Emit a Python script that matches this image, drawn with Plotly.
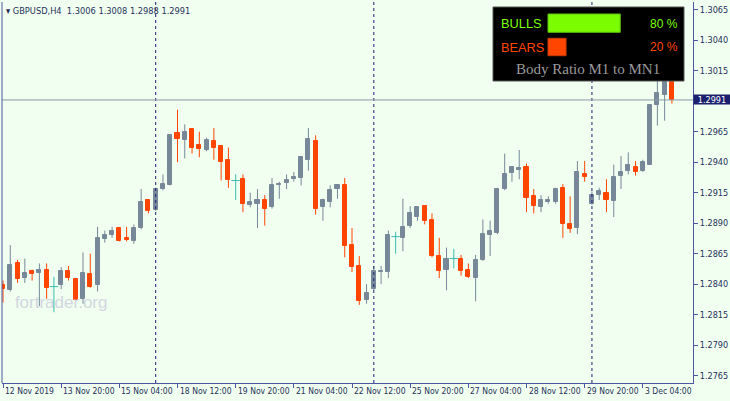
import plotly.graph_objects as go

symbol = "GBPUSD"
timeframe = "H4"

opens = [
    1.2839, 1.2835, 1.2857, 1.2845, 1.2851, 1.2849, 1.2852, 1.2838, 1.2839, 1.2851,
    1.2844, 1.2828, 1.2848, 1.2839, 1.2877, 1.2880, 1.2886, 1.2878, 1.2875, 1.2886,
    1.2909, 1.2901, 1.2918, 1.2921, 1.2964, 1.2958, 1.2967, 1.2954, 1.2950, 1.2957,
    1.2953, 1.2942, 1.2925, 1.2926, 1.2905, 1.2906, 1.2909, 1.2903, 1.2921, 1.2923,
    1.2926, 1.2927, 1.2942, 1.2957, 1.2903, 1.2907, 1.2918, 1.2921, 1.2872, 1.2855,
    1.2827, 1.2836, 1.2850, 1.2850, 1.2879, 1.2878, 1.2888, 1.2895, 1.2904, 1.2893,
    1.2863, 1.2852, 1.2861, 1.2861, 1.2852, 1.2845, 1.2860, 1.2880, 1.2882, 1.2918,
    1.2931, 1.2934, 1.2936, 1.2912, 1.2903, 1.2907, 1.2907, 1.2919, 1.2889, 1.2886,
    1.2930, 1.2906, 1.2913, 1.2915, 1.2908, 1.2929, 1.2933, 1.2936, 1.2933, 1.2938,
    1.2987, 1.2995, 1.3006,
]
highs = [
    1.2843, 1.2872, 1.2860, 1.2861, 1.2852, 1.2857, 1.2857, 1.2846, 1.2854, 1.2855,
    1.2845, 1.2866, 1.2865, 1.2887, 1.2884, 1.2887, 1.2886, 1.2887, 1.2889, 1.2918,
    1.2909, 1.2919, 1.2930, 1.2962, 1.2983, 1.2971, 1.2967, 1.2965, 1.2960, 1.2968,
    1.2954, 1.2952, 1.2930, 1.2930, 1.2915, 1.2918, 1.2913, 1.2927, 1.2924, 1.2930,
    1.2932, 1.2945, 1.2968, 1.2962, 1.2910, 1.2921, 1.2921, 1.2927, 1.2886, 1.2863,
    1.2840, 1.2855, 1.2855, 1.2884, 1.2883, 1.2910, 1.2904, 1.2904, 1.2904, 1.2898,
    1.2878, 1.2870, 1.2869, 1.2864, 1.2857, 1.2864, 1.2893, 1.2892, 1.2919, 1.2947,
    1.2936, 1.2950, 1.2939, 1.2918, 1.2913, 1.2912, 1.2919, 1.2922, 1.2912, 1.2941,
    1.2941, 1.2916, 1.2919, 1.2926, 1.2938, 1.2945, 1.2948, 1.2941, 1.2942, 1.2987,
    1.3007, 1.3010, 1.3008,
]
lows = [
    1.2825, 1.2834, 1.2841, 1.2841, 1.2843, 1.2822, 1.2828, 1.2817, 1.2836, 1.2843,
    1.2827, 1.2824, 1.2837, 1.2834, 1.2874, 1.2878, 1.2875, 1.2875, 1.2873, 1.2885,
    1.2898, 1.2900, 1.2917, 1.2921, 1.2940, 1.2943, 1.2947, 1.2944, 1.2949, 1.2942,
    1.2925, 1.2919, 1.2909, 1.2899, 1.2903, 1.2886, 1.2888, 1.2902, 1.2910, 1.2918,
    1.2924, 1.2921, 1.2933, 1.2897, 1.2892, 1.2903, 1.2910, 1.2862, 1.2850, 1.2823,
    1.2824, 1.2835, 1.2840, 1.2845, 1.2865, 1.2867, 1.2886, 1.2892, 1.2889, 1.2862,
    1.2845, 1.2835, 1.2853, 1.2847, 1.2845, 1.2826, 1.2859, 1.2863, 1.2881, 1.2917,
    1.2924, 1.2926, 1.2899, 1.2898, 1.2899, 1.2906, 1.2906, 1.2878, 1.2882, 1.2881,
    1.2924, 1.2905, 1.2909, 1.2899, 1.2895, 1.2918, 1.2930, 1.2929, 1.2932, 1.2938,
    1.2970, 1.2974, 1.2988,
]
closes = [
    1.2836, 1.2856, 1.2844, 1.2849, 1.2848, 1.2852, 1.2837, 1.2838, 1.2851, 1.2845,
    1.2827, 1.2849, 1.2838, 1.2878, 1.2880, 1.2884, 1.2875, 1.2876, 1.2886, 1.2907,
    1.2900, 1.2918, 1.2922, 1.2962, 1.2959, 1.2965, 1.2952, 1.2951, 1.2958, 1.2952,
    1.2940, 1.2925, 1.2925, 1.2906, 1.2907, 1.2909, 1.2902, 1.2921, 1.2922, 1.2925,
    1.2928, 1.2944, 1.2959, 1.2902, 1.2909, 1.2917, 1.2921, 1.2871, 1.2854, 1.2826,
    1.2833, 1.2851, 1.2851, 1.2880, 1.2879, 1.2887, 1.2898, 1.2903, 1.2892, 1.2863,
    1.2851, 1.2861, 1.2861, 1.2851, 1.2846, 1.2860, 1.2881, 1.2884, 1.2918, 1.2930,
    1.2936, 1.2935, 1.2911, 1.2904, 1.2909, 1.2909, 1.2918, 1.2889, 1.2885, 1.2932,
    1.2928, 1.2913, 1.2916, 1.2909, 1.2928, 1.2932, 1.2938, 1.2932, 1.2940, 1.2987,
    1.2997, 1.3006, 1.2991,
]

x_tick_bars = [0, 8, 16, 24, 32, 40, 48, 56, 64, 72, 80, 88]
x_tick_labels = ["12 Nov 2019", "13 Nov 20:00", "15 Nov 04:00", "18 Nov 12:00",
                 "19 Nov 20:00", "21 Nov 04:00", "22 Nov 12:00", "25 Nov 20:00",
                 "27 Nov 04:00", "28 Nov 12:00", "29 Nov 20:00", "3 Dec 04:00"]
week_start_bars = [21, 51, 81]
y_tick_values = [1.3065, 1.3040, 1.3015, 1.2965, 1.2940, 1.2915, 1.2890,
                 1.2865, 1.2840, 1.2815, 1.2790, 1.2765]
bulls_pct = 80
bears_pct = 20

BG = "#F0FFF0"
FRAME = "#4b5aa0"
TXT = "#26305a"
BULL = "#778899"
BEAR = "#FF4500"
DOJI = "#3cbcb0"
FONT = "Tahoma, 'DejaVu Sans Condensed', 'Liberation Sans', sans-serif"

W, H = 730, 401
L, R, T, B = 2, 693, 2, 383


def px(x):
    return (x - L) / (R - L)


def py(y):
    return 1 - (y - T) / (B - T)


groups = {"bull": [], "bear": [], "doji": []}
for i, (o, c) in enumerate(zip(opens, closes)):
    if c > o:
        groups["bull"].append(i)
    elif c < o:
        groups["bear"].append(i)
    else:
        groups["doji"].append(i)

colors = {"bull": BULL, "bear": BEAR, "doji": DOJI}

fig = go.Figure()

# watermark (beneath the candles)
fig.add_trace(go.Scatter(x=[8.0], y=[1.2824], mode="text", text=["fortrader.org"],
                         textfont=dict(family="'Liberation Sans', Arial", size=17, color="#d3d6e2"),
                         hoverinfo="skip", showlegend=False, cliponaxis=False))

# wicks
for k, idx in groups.items():
    wx, wy = [], []
    for i in idx:
        wx += [i, i, None]
        wy += [lows[i], highs[i], None]
    fig.add_trace(go.Scatter(x=wx, y=wy, mode="lines",
                             line=dict(color=colors[k], width=1),
                             hoverinfo="skip", showlegend=False))

# bodies
for k in ("bull", "bear"):
    idx = groups[k]
    fig.add_trace(go.Bar(x=idx,
                         y=[abs(closes[i] - opens[i]) for i in idx],
                         base=[min(opens[i], closes[i]) for i in idx],
                         width=0.56,
                         marker=dict(color=colors[k], line=dict(color=colors[k], width=1)),
                         showlegend=False))

# doji bodies
d_idx = groups["doji"]
fig.add_trace(go.Scatter(x=d_idx, y=[opens[i] for i in d_idx], mode="markers",
                         marker=dict(symbol="line-ew", size=6,
                                     line=dict(color=DOJI, width=1)),
                         showlegend=False))

shapes = []
for b in week_start_bars:
    shapes.append(dict(type="line", xref="x", yref="paper", x0=b, x1=b, y0=0, y1=1,
                       line=dict(color="#1c2270", width=1, dash="dot")))
# bid line
shapes.append(dict(type="line", xref="paper", yref="y", x0=0, x1=1,
                   y0=closes[-1], y1=closes[-1], line=dict(color="#8a98a8", width=1)))
# left frame
shapes.append(dict(type="line", xref="paper", yref="paper", x0=0, x1=0, y0=0, y1=1,
                   line=dict(color=FRAME, width=1)))

# info panel
bx0, bx1, by0, by1 = 493, 684, 7, 81
shapes.append(dict(type="rect", xref="paper", yref="paper", layer="above",
                   x0=px(bx0), x1=px(bx1), y0=py(by1), y1=py(by0),
                   fillcolor="#000000", line=dict(color="#555555", width=1)))
bar_left, bar_full = 548, 90.3
shapes.append(dict(type="rect", xref="paper", yref="paper", layer="above",
                   x0=px(bar_left), x1=px(bar_left + bar_full * bulls_pct / 100),
                   y0=py(32.3), y1=py(14),
                   fillcolor="#7CFC00", line=dict(color="#5fbf10", width=1)))
shapes.append(dict(type="rect", xref="paper", yref="paper", layer="above",
                   x0=px(bar_left), x1=px(bar_left + bar_full * bears_pct / 100),
                   y0=py(55.7), y1=py(38.3),
                   fillcolor="#FF4500", line=dict(color="#c93a08", width=1)))

ann = []
for b, t in zip(x_tick_bars, x_tick_labels):
    ann.append(dict(x=b, xref="x", y=0, yref="paper", text=t, showarrow=False,
                    xanchor="left", yanchor="top", xshift=0, yshift=-1,
                    font=dict(family=FONT, size=8.5, color=TXT)))

ann.append(dict(x=0, xref="paper", y=1, yref="paper", showarrow=False,
                xanchor="left", yanchor="top", xshift=2, yshift=-1,
                text=f"▾ {symbol},{timeframe}  {opens[-1]:.4f} {highs[-1]:.4f} "
                     f"{lows[-1]:.4f} {closes[-1]:.4f}",
                font=dict(family=FONT, size=9.2, color=TXT)))

ann.append(dict(x=1, xref="paper", y=closes[-1], yref="y", showarrow=False,
                xanchor="left", yanchor="middle", xshift=0, text=f"{closes[-1]:.4f}",
                bgcolor="#1a1f6e", borderpad=0, width=36, height=9,
                font=dict(family=FONT, size=9, color="#ffffff")))

ann.append(dict(x=px(499), xref="paper", y=py(23.5), yref="paper", showarrow=False,
                xanchor="left", yanchor="middle", text="BULLS",
                font=dict(family="'Liberation Sans', Arial", size=12.8, color="#7CFC00")))
ann.append(dict(x=px(499), xref="paper", y=py(47), yref="paper", showarrow=False,
                xanchor="left", yanchor="middle", text="BEARS",
                font=dict(family="'Liberation Sans', Arial", size=12.8, color="#FF4500")))
ann.append(dict(x=px(680), xref="paper", y=py(24), yref="paper", showarrow=False,
                xanchor="right", yanchor="middle", text=f"{bulls_pct} %",
                font=dict(family="'Liberation Sans', Arial", size=12, color="#7CFC00")))
ann.append(dict(x=px(680), xref="paper", y=py(47), yref="paper", showarrow=False,
                xanchor="right", yanchor="middle", text=f"{bears_pct} %",
                font=dict(family="'Liberation Sans', Arial", size=12, color="#FF4500")))
ann.append(dict(x=px(588), xref="paper", y=py(68.5), yref="paper", showarrow=False,
                xanchor="center", yanchor="middle", text="Body Ratio M1 to MN1",
                font=dict(family="'Liberation Serif', serif", size=15, color="#9a9a9a")))

fig.update_layout(
    width=W, height=H, autosize=False,
    margin=dict(l=L, r=W - R, t=T, b=H - B, pad=0),
    paper_bgcolor=BG, plot_bgcolor=BG,
    barmode="overlay", bargap=0,
    showlegend=False,
    shapes=shapes, annotations=ann,
    xaxis=dict(range=[-0.14, 94.9], showgrid=False, zeroline=False,
               tickvals=x_tick_bars, showticklabels=False,
               ticks="outside", ticklen=4, tickcolor=FRAME, tickwidth=1,
               showline=True, linecolor=FRAME, linewidth=1, fixedrange=True),
    yaxis=dict(range=[1.27590, 1.30713], side="right", showgrid=False, zeroline=False,
               tickvals=y_tick_values, ticktext=[f"{v:.4f}" for v in y_tick_values],
               ticks="outside", ticklen=4, tickcolor=FRAME, tickwidth=1,
               tickfont=dict(family=FONT, size=9, color=TXT),
               showline=True, linecolor=FRAME, linewidth=1, fixedrange=True),
    hovermode=False,
)

fig.write_html("out.html", config={"displayModeBar": False},
               post_script="document.body.style.margin='0';"
                           "document.body.style.background='#F0FFF0';")
